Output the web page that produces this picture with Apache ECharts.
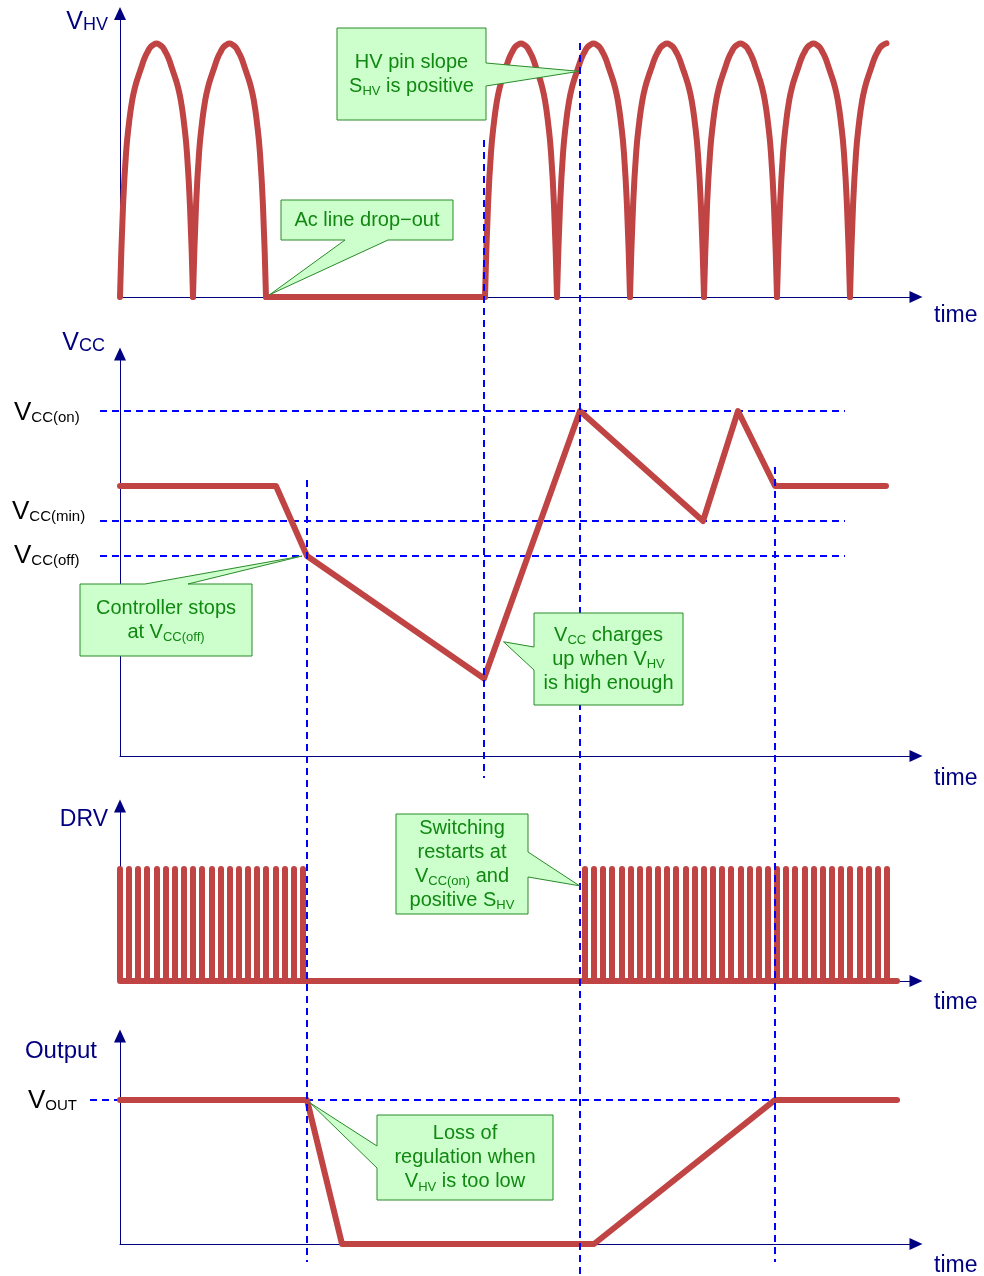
<!DOCTYPE html>
<html>
<head>
<meta charset="utf-8">
<title>HV pin / VCC timing on line drop-out</title>
<script src="https://cdn.jsdelivr.net/npm/echarts@6/dist/echarts.min.js"></script>
<style>
  html, body { margin: 0; padding: 0; background: #fff; }
  #main { width: 984px; height: 1276px; }
</style>
</head>
<body>
<div id="main"></div>
<script>
// ---- data (time axis runs 0..796 in every panel) ----
const timeMax = 796;

// VHV: one half of a rectified arch, normalised to its peak, 1/24 period steps
const vhvArchShape = [0, 0.36, 0.57, 0.69, 0.775, 0.83, 0.87, 0.905, 0.94, 0.965, 0.985, 0.995, 1];
const vhvArches = [[0, 73], [73, 146], [365, 437], [437, 510], [510, 584], [584, 657], [657, 730]];
const vhvFlat = [146, 365];
const vhvLastHalf = [730, 803];

// VCC
const vccTimes = [0, 156, 187, 364, 460, 583, 618, 655, 766];
const vccValues = [10.8, 10.8, 8.0, 3.1, 13.8, 9.4, 13.8, 10.8, 10.8];
const VCC_ON = 13.8;
const VCC_MIN = 9.4;
const VCC_OFF = 8.0;

// DRV pulse times
const drvLeft = [0, 9, 18, 27, 37, 46, 55, 64, 73, 82, 92, 101, 110, 119, 128, 137, 146, 156, 165, 174, 183];
const drvRight = [465, 474, 483, 492, 502, 511, 520, 529, 538, 547, 556, 566, 575, 584, 593, 602, 611,
  621, 630, 639, 648, 657, 666, 675, 685, 694, 703, 712, 721, 730, 740, 749, 758, 767];
const drvEnd = 777;

// Output
const outTimes = [0, 187, 222, 474, 655, 777];
const outValues = [1, 1, 0, 0, 1, 1];
const VOUT = 1;

// events marked by vertical dashed lines
const eventTimes = [187, 364, 460, 655];

// ---- layout ----
const RED = '#c04444';
const NAVY = '#000080';
const BLUE = '#0000ff';
const GREEN_TXT = '#118811';
const FONT = 'Liberation Sans, Arial, Helvetica, sans-serif';

const panels = [
  { top: 13.5, height: 283.5, yMax: 1.118 },
  { top: 354, height: 402, yMax: 16.08 },
  { top: 806, height: 175, yMax: 1.5625 },
  { top: 1036, height: 208, yMax: 1.444 }
];
const eventSpans = [[480, 1262], [140, 778], [43, 1276], [467, 1262]];

function archPoints(a, half) {
  const pts = [];
  const n = half ? 12 : 24;
  for (let k = 0; k <= n; k++) {
    pts.push([a[0] + (a[1] - a[0]) * k / 24, vhvArchShape[k <= 12 ? k : 24 - k]]);
  }
  return pts;
}

let drvData = [];
drvLeft.concat(drvRight).forEach(function (t) {
  drvData.push([t, 0], [t, 1], [t, 0]);
});
drvData.push([drvEnd, 0]);

const vccData = vccTimes.map((t, i) => [t, vccValues[i]]);
const outData = outTimes.map((t, i) => [t, outValues[i]]);

const axisLine = {
  show: true,
  symbol: ['none', 'triangle'],
  symbolSize: [12, 13],
  lineStyle: { color: NAVY, width: 1 }
};
const hidden = { show: false };

let grids = [], xAxes = [], yAxes = [];
panels.forEach(function (p, i) {
  grids.push({ left: 120, width: 796, top: p.top, height: p.height, outerBoundsMode: 'none' });
  xAxes.push({ type: 'value', gridIndex: i, min: 0, max: timeMax, axisLine: axisLine,
    axisTick: hidden, axisLabel: hidden, splitLine: hidden });
  yAxes.push({ type: 'value', gridIndex: i, min: 0, max: p.yMax, axisLine: axisLine,
    axisTick: hidden, axisLabel: hidden, splitLine: hidden });
});
// wider twins of each panel (same scales) so level guides can run left of the axis
panels.forEach(function (p, i) {
  grids.push({ left: 0, width: 916, top: p.top, height: p.height, outerBoundsMode: 'none' });
  xAxes.push({ type: 'value', gridIndex: 4 + i, min: -120, max: timeMax, show: false });
  yAxes.push({ type: 'value', gridIndex: 4 + i, min: 0, max: p.yMax, show: false });
});
// overlay in page pixels for the dashed event lines
grids.push({ left: 120, width: 796, top: 0, height: 1276, outerBoundsMode: 'none' });
xAxes.push({ type: 'value', gridIndex: 8, min: 0, max: timeMax, show: false });
yAxes.push({ type: 'value', gridIndex: 8, min: 0, max: 1276, inverse: true, show: false });

function redLine(i, data, smooth) {
  return { type: 'line', xAxisIndex: i, yAxisIndex: i, data: data, showSymbol: false, smooth: smooth || false,
    lineStyle: { color: RED, width: 6, cap: 'round', join: 'round' }, z: 3 };
}
function dashed(i, data) {
  return { type: 'line', xAxisIndex: i, yAxisIndex: i, data: data, showSymbol: false, clip: false,
    lineStyle: { color: BLUE, width: 2, type: [7, 5] }, z: 2 };
}

let series = [
  dashed(5, [[-20, VCC_ON], [725, VCC_ON]]),
  dashed(5, [[-20, VCC_MIN], [725, VCC_MIN]]),
  dashed(5, [[-20, VCC_OFF], [725, VCC_OFF]]),
  dashed(7, [[-30, VOUT], [780, VOUT]])
];
vhvArches.forEach(function (a) { series.push(redLine(0, archPoints(a, false), 0.5)); });
series.push(redLine(0, archPoints(vhvLastHalf, true), 0.5));
series.push(redLine(0, [[vhvFlat[0], 0], [vhvFlat[1], 0]]));
series.push(redLine(1, vccData), redLine(2, drvData), redLine(3, outData));
eventTimes.forEach(function (t, i) {
  const s = dashed(8, [[t, eventSpans[i][0]], [t, eventSpans[i][1]]]);
  s.z = 4;
  series.push(s);
});

const chart = echarts.init(document.getElementById('main'), null, { renderer: 'canvas' });
chart.setOption({
  animation: false,
  backgroundColor: '#fff',
  grid: grids,
  xAxis: xAxes,
  yAxis: yAxes,
  series: series
});

// ---- texts and callouts ----
function rich(n, s, color) {
  return {
    n: { fontSize: n, fontFamily: FONT, fill: color, lineHeight: 24, verticalAlign: 'middle' },
    s: { fontSize: s, fontFamily: FONT, fill: color, lineHeight: 24, verticalAlign: 'bottom' }
  };
}
function label(x, y, text, align, n, s, color) {
  return { type: 'text', x: x, y: y, z: 120,
    style: { text: text, rich: rich(n, s, color), fill: color, fontSize: n, fontFamily: FONT,
      align: align, textAlign: align, verticalAlign: 'middle', textVerticalAlign: 'middle' } };
}

const callouts = [
  { grid: 0, anchor: [459, 0.89], box: [337, 28, 149, 92], side: 'right', base: [63, 86],
    text: '{n|HV pin slope}\n{n|S}{s|HV}{n| is positive}' },
  { grid: 0, anchor: [150, 0.01], box: [281, 200, 172, 40], side: 'bottom', base: [345, 388],
    text: '{n|Ac line drop−out}' },
  { grid: 1, anchor: [182, VCC_OFF], box: [80, 584, 172, 72], side: 'top', base: [145, 188],
    text: '{n|Controller stops}\n{n|at V}{s|CC(off)}' },
  { grid: 1, anchor: [383.5, 4.57], box: [534, 613, 149, 92], side: 'left', base: [647, 670],
    text: '{n|V}{s|CC}{n| charges}\n{n|up when V}{s|HV}\n{n|is high enough}' },
  { grid: 2, anchor: [459.5, 0.85], box: [396, 814, 132, 100], side: 'right', base: [852, 877],
    text: '{n|Switching}\n{n|restarts at}\n{n|V}{s|CC(on)}{n| and}\n{n|positive S}{s|HV}' },
  { grid: 3, anchor: [190, 0.98], box: [377, 1115, 176, 85], side: 'left', base: [1146, 1168],
    text: '{n|Loss of}\n{n|regulation when}\n{n|V}{s|HV}{n| is too low}' }
];

function calloutPoints(c, tip) {
  const x = c.box[0], y = c.box[1], w = c.box[2], h = c.box[3];
  const p = c.base[0], q = c.base[1];
  if (c.side === 'right') return [[x, y], [x + w, y], [x + w, p], tip, [x + w, q], [x + w, y + h], [x, y + h]];
  if (c.side === 'left') return [[x, y], [x + w, y], [x + w, y + h], [x, y + h], [x, q], tip, [x, p]];
  if (c.side === 'top') return [[x, y], [p, y], tip, [q, y], [x + w, y], [x + w, y + h], [x, y + h]];
  return [[x, y], [x + w, y], [x + w, y + h], [q, y + h], tip, [p, y + h], [x, y + h]];
}

let graphics = [];
callouts.forEach(function (c) {
  const tip = chart.convertToPixel({ gridIndex: c.grid }, c.anchor);
  graphics.push({ type: 'polygon', z: 100, shape: { points: calloutPoints(c, tip) },
    style: { fill: '#ccffcc', stroke: '#2a8a2a', lineWidth: 1 } });
  graphics.push(label(c.box[0] + c.box[2] / 2, c.box[1] + c.box[3] / 2, c.text, 'center', 20, 13, GREEN_TXT));
});

// axis names
graphics.push(label(108, 22, '{n|V}{s|HV}', 'right', 25, 18, NAVY));
graphics.push(label(105, 343, '{n|V}{s|CC}', 'right', 25, 18, NAVY));
graphics.push(label(108, 820, '{n|DRV}', 'right', 23, 18, NAVY));
graphics.push(label(97, 1051, '{n|Output}', 'right', 24, 18, NAVY));
[316, 779, 1003, 1266].forEach(function (y) {
  graphics.push(label(934, y, '{n|time}', 'left', 23, 18, NAVY));
});

// level labels
graphics.push(label(14, 413, '{n|V}{s|CC(on)}', 'left', 26, 15, '#000'));
graphics.push(label(12, 512, '{n|V}{s|CC(min)}', 'left', 26, 15, '#000'));
graphics.push(label(14, 556, '{n|V}{s|CC(off)}', 'left', 26, 15, '#000'));
graphics.push(label(28, 1101, '{n|V}{s|OUT}', 'left', 26, 15, '#000'));

chart.setOption({ graphic: graphics });
</script>
</body>
</html>
